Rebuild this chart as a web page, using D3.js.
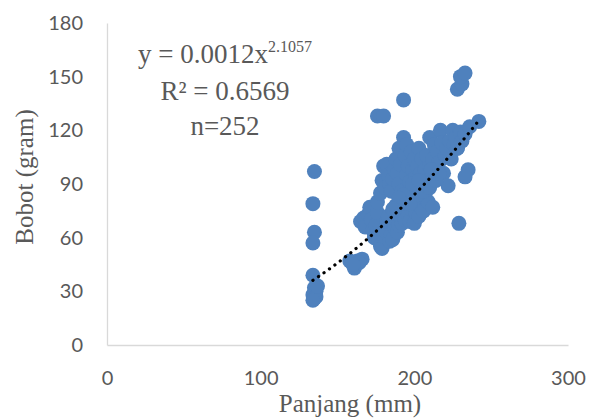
<!DOCTYPE html>
<html>
<head>
<meta charset="utf-8">
<script src="https://cdn.jsdelivr.net/npm/d3@7"></script>
<style>
  body { margin: 0; background: #fff; }
  #chart { width: 590px; height: 419px; }
</style>
</head>
<body>
<div id="chart"></div>
<script>
// Panjang (mm) and Bobot (gram)
const panjang = [
    135, 134, 135, 134, 134, 135, 136, 134, 135, 136, 134, 137,
    158, 161, 163, 166, 164, 160,
    165, 167, 168, 170, 171, 172, 173, 174, 175, 176, 177, 178, 179, 180, 181, 182,
    183, 184, 185, 186, 187, 188, 189, 190, 191, 192, 193, 194, 195, 196, 197, 198,
    199, 200, 201, 202, 203, 204, 205, 206, 207, 209, 212,
    176, 178, 179, 180, 181, 182, 183, 184, 185, 186, 187, 188, 189, 190, 190, 191,
    192, 193, 194, 195, 195, 196, 197, 198, 199, 200, 200, 201, 202, 203, 204, 205,
    206, 207, 208, 209, 210, 210, 211, 212, 213, 214, 215, 216, 217, 218, 219, 220,
    221, 222, 223, 224, 225, 226, 227, 228, 230, 231, 233, 235, 233, 229,
    176, 180, 193, 228, 231, 230, 233, 242, 236, 228,
    192, 195, 198, 200, 202, 204, 197, 193, 206, 208, 210, 212, 214, 216,
    188, 190, 186, 199, 203, 211
];
const bobot = [
    97, 79, 63, 57, 39, 32, 30, 28, 26, 27, 25, 33,
    47, 43, 47, 48, 46, 45,
    69, 71, 66, 73, 77, 70, 64, 60, 67, 74, 58, 55, 54, 61, 64, 69,
    72, 58, 62, 59, 66, 70, 63, 67, 72, 68, 75, 70, 78, 73, 69, 76,
    80, 68, 74, 78, 72, 82, 76, 75, 84, 80, 77,
    80, 85, 92, 100, 88, 101, 95, 90, 86, 93, 98, 104, 96, 90, 110, 101,
    86, 116, 106, 112, 95, 100, 91, 108, 98, 104, 88, 94, 100, 110, 96, 104,
    92, 98, 106, 90, 116, 100, 94, 104, 112, 98, 108, 102, 120, 113, 96, 106,
    110, 89, 114, 104, 120, 112, 116, 110, 119, 114, 118, 98, 94, 68,
    128, 128, 137, 143, 146, 150, 152, 125, 122, 110,
    80, 83, 86, 82, 84, 88, 79, 84, 86, 92, 88, 95, 92, 96,
    78, 82, 76, 90, 92, 98
];

const xTicks = [0, 100, 200, 300];
const yTicks = [0, 30, 60, 90, 120, 150, 180];

// trendline from the chart's own fitted equation y = a x^b
const coefA = 0.0012;
const coefB = 2.1057;
const eqLines = ['y = 0.0012x', 'R² = 0.6569', 'n=252'];
const eqExponent = '2.1057';

const width = 590;
const height = 419;

const svg = d3.select('#chart').append('svg')
    .attr('width', width)
    .attr('height', height);

const xScale = d3.scaleLinear().domain([0, 300]).range([107, 568]);
const yScale = d3.scaleLinear().domain([0, 180]).range([345, 23]);

const tickFont = 'Lato, "Liberation Sans", sans-serif';
const serifFont = '"Liberation Serif", serif';
const textColor = '#595959';

// Axes
const xAxis = svg.append('g')
    .attr('transform', `translate(0,${yScale(0)})`)
    .call(d3.axisBottom(xScale).tickValues(xTicks).tickSize(0).tickPadding(26));

const yAxis = svg.append('g')
    .attr('transform', `translate(${xScale(0)},0)`)
    .call(d3.axisLeft(yScale).tickValues(yTicks).tickSize(0).tickPadding(24));

[xAxis, yAxis].forEach(ax => {
    ax.select('.domain').attr('stroke', '#d9d9d9').attr('stroke-width', 1.3);
    ax.selectAll('text')
        .attr('fill', textColor)
        .style('font-family', tickFont)
        .style('font-size', '20px');
});

// Points
const points = panjang.map((p, i) => ({ x: p, y: bobot[i] }));

svg.append('g')
    .selectAll('circle')
    .data(points)
    .enter()
    .append('circle')
    .attr('cx', d => xScale(d.x))
    .attr('cy', d => yScale(d.y))
    .attr('r', 7.5)
    .attr('fill', '#4f81bd');

// Trendline (power)
const xMin = d3.min(panjang);
const xMax = d3.max(panjang);
const trend = d3.range(xMin, xMax + 0.5, 1).map(x => ({ x, y: coefA * Math.pow(x, coefB) }));

svg.append('path')
    .datum(trend)
    .attr('fill', 'none')
    .attr('stroke', '#000')
    .attr('stroke-width', 3.2)
    .attr('stroke-linecap', 'round')
    .attr('stroke-dasharray', '0.1 6.6')
    .attr('d', d3.line().x(d => xScale(d.x)).y(d => yScale(d.y)));

// Equation label
const eq = svg.append('g')
    .attr('fill', textColor)
    .style('font-family', serifFont)
    .style('font-size', '27px')
    .attr('text-anchor', 'middle');

const line1 = eq.append('text').attr('x', 225).attr('y', 63);
line1.append('tspan').text(eqLines[0]);
line1.append('tspan')
    .attr('dy', -11)
    .style('font-size', '16px')
    .text(eqExponent);

eq.append('text').attr('x', 225).attr('y', 100).text(eqLines[1]);
eq.append('text').attr('x', 225).attr('y', 135).text(eqLines[2]);

// Axis titles
svg.append('text')
    .attr('x', 350)
    .attr('y', 412)
    .attr('text-anchor', 'middle')
    .attr('fill', textColor)
    .style('font-family', serifFont)
    .style('font-size', '25px')
    .text('Panjang (mm)');

svg.append('text')
    .attr('transform', 'translate(33,177) rotate(-90)')
    .attr('text-anchor', 'middle')
    .attr('fill', textColor)
    .style('font-family', serifFont)
    .style('font-size', '25px')
    .text('Bobot (gram)');
</script>
</body>
</html>
